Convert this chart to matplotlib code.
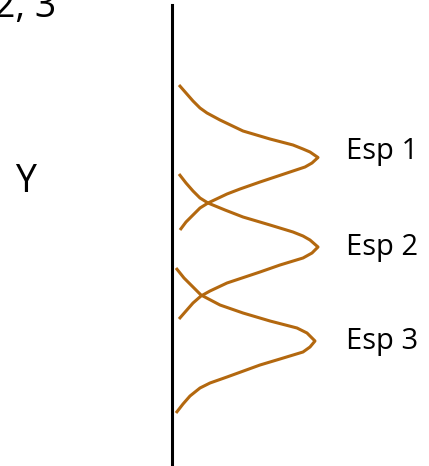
import matplotlib.pyplot as plt
import numpy as np

# Curvas dibujadas a mano (coordenadas en pixeles de la imagen)
esp1_x = [179, 186, 193, 200, 207, 220, 243, 270, 293, 303, 310, 318, 312, 305, 290, 260, 240, 227, 208, 200, 193, 186, 180]
esp1_y = [85, 93, 101, 108, 113, 120, 131, 139, 145, 149, 152, 157.5, 163, 167, 172, 182, 189, 194, 203, 208, 215, 222, 230]

esp2_x = [179, 186, 193, 200, 208, 225, 243, 270, 293, 303, 310, 318, 312, 303, 280, 260, 227, 210, 201, 193, 186, 179]
esp2_y = [174, 183, 191, 198, 203, 210, 217, 225, 232, 236, 240, 247, 253, 258, 265, 272, 283, 291, 296, 303, 311, 319]

esp3_x = [176, 184, 193, 201, 220, 243, 270, 297, 307, 315, 310, 303, 280, 260, 227, 210, 200, 190, 183, 176]
esp3_y = [268, 278, 287, 295, 305, 313, 321, 328, 333, 341, 347, 352, 359, 365, 377, 383, 388, 396, 404, 413]

etiquetas = ['Esp 1', 'Esp 2', 'Esp 3']
etiqueta_y = [159, 255, 349]

color = '#B3680F'

fig = plt.figure(figsize=(4.29, 4.66), dpi=100)
ax = fig.add_axes([0, 0, 1, 1])
ax.set_xlim(0, 429)
ax.set_ylim(466, 0)
ax.axis('off')

for xs, ys in [(esp1_x, esp1_y), (esp2_x, esp2_y), (esp3_x, esp3_y)]:
    ax.plot(xs, ys, color=color, lw=2.2, solid_capstyle='butt', solid_joinstyle='round')

# Eje vertical
ax.plot([172, 172], [5, 466], color='black', lw=2.2)

for txt, y in zip(etiquetas, etiqueta_y):
    ax.text(346, y, txt, fontsize=21, family='Open Sans', va='baseline', ha='left')

ax.text(26, 192, 'Y', fontsize=27, family='Open Sans', va='baseline', ha='center')
ax.text(56, 17, '2, 3', fontsize=27, family='Open Sans', va='baseline', ha='right')

fig.savefig('out.png', dpi=100)
